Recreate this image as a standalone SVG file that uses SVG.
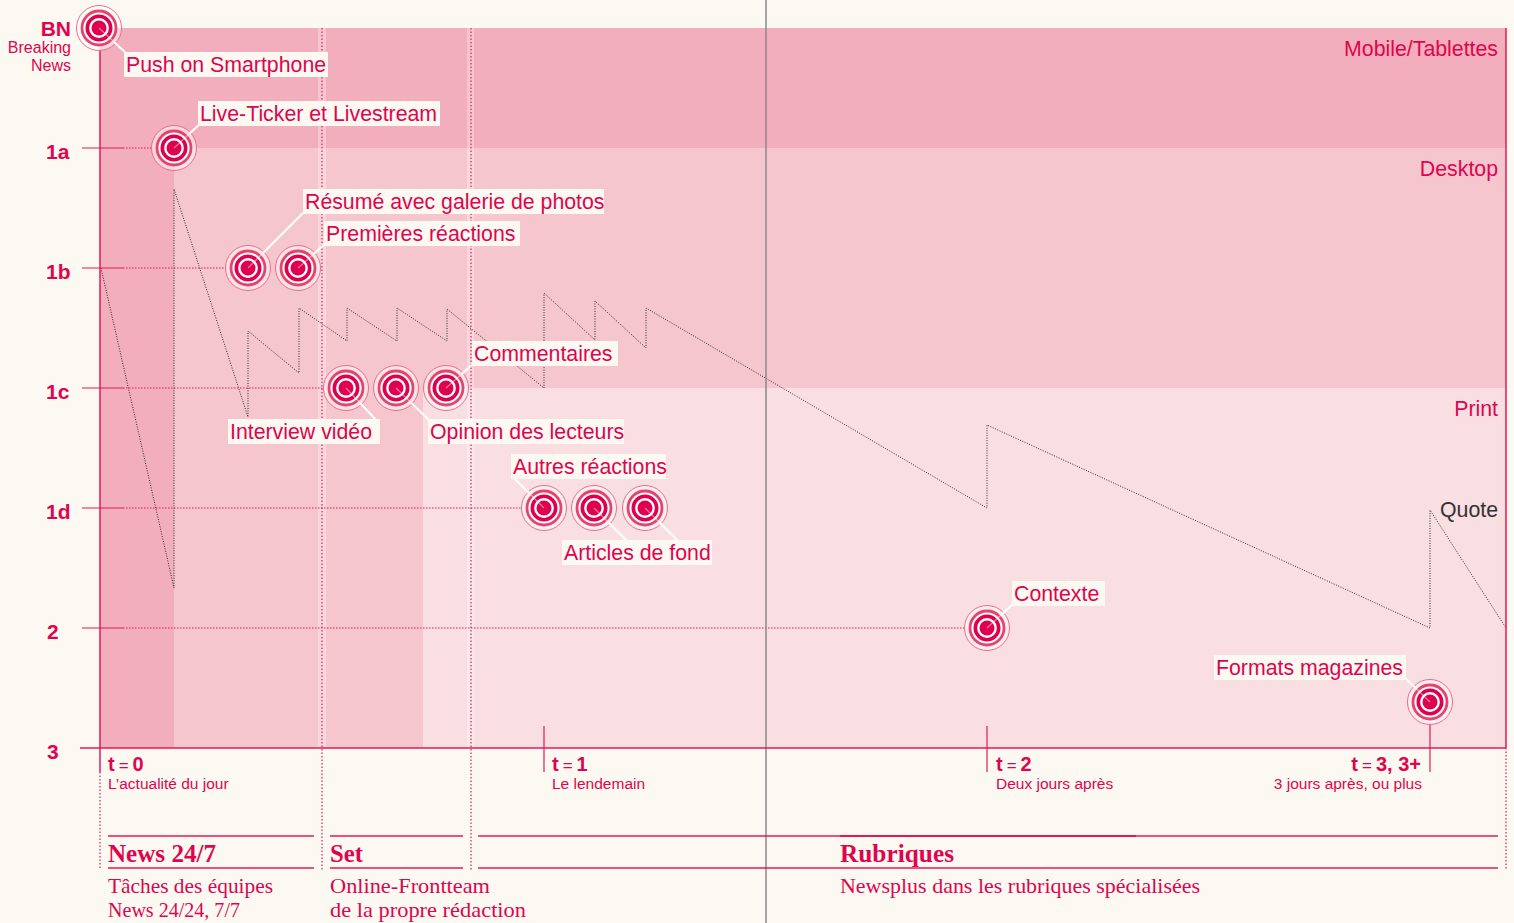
<svg xmlns="http://www.w3.org/2000/svg" xmlns:xlink="http://www.w3.org/1999/xlink" width="1514" height="923" viewBox="0 0 1514 923">
<defs>
<style>
.sans{font-family:"Liberation Sans",Arial,sans-serif;fill:#E0044E}
.lbl{font-size:21.3px}
.box{fill:#FCF9F3}
.call{stroke:#FFFFFF;stroke-width:2;fill:none}
.callin{stroke:#FFFFFF;stroke-width:1.3;stroke-opacity:0.45;fill:none}
.guide{stroke:#E8175A;stroke-width:1;stroke-dasharray:1.5 1.5;fill:none}
.vdot{stroke:#E8175A;stroke-width:1.2;stroke-dasharray:1.5 2;fill:none}
.axis{stroke:#E8175A;stroke-width:1.5;fill:none}
.tick{stroke:#E8175A;stroke-width:1.2;fill:none}
.zig{stroke:#2a2a2a;stroke-width:1;stroke-dasharray:1 1.5;fill:none}
.serif{font-family:"Liberation Serif","Times New Roman",serif;fill:#E0044E}
.hline{stroke:#E8175A;stroke-width:1.3}
.ax{font-size:21px;font-weight:bold}
.sub{font-size:15.5px}
.band{font-size:21.3px}
.tl{font-size:20px}
</style>
<g id="target">
<circle r="22.5" fill="#FFFFFF" fill-opacity="0.5" stroke="#EA6C8E" stroke-width="1"/>
<circle r="17" fill="#FFFFFF" stroke="#E5446C" stroke-width="2.8"/>
<circle r="11.7" fill="none" stroke="#E0004D" stroke-width="3.6"/>
<circle r="7.5" fill="#E0004D"/>
</g>
</defs>
<rect width="1514" height="923" fill="#FCF9F3"/>
<g id="bands">
<rect x="100" y="28" width="1406" height="720" fill="#F9DFE2"/>
<polygon points="100,148 1506,148 1506,388 423,388 423,748 100,748" fill="#F6C6CF"/>
<polygon points="100,28 1506,28 1506,148 174,148 174,748 100,748" fill="#F2AEBC"/>
<rect x="318" y="28" width="8" height="720" fill="#FFFFFF" fill-opacity="0.3"/>
<rect x="467" y="28" width="7" height="720" fill="#FFFFFF" fill-opacity="0.3"/>
</g>
<g id="connectors">
<line class="vdot" x1="322" y1="28" x2="322" y2="870"/>
<line class="vdot" x1="471" y1="28" x2="471" y2="870"/>
<line class="guide" x1="123" y1="148" x2="152" y2="148"/>
<line class="guide" x1="123" y1="268" x2="226" y2="268"/>
<line class="guide" x1="123" y1="388" x2="324" y2="388"/>
<line class="guide" x1="123" y1="508" x2="522" y2="508"/>
<line class="guide" x1="123" y1="628" x2="965" y2="628"/>
<polyline class="zig" points="101,268 174,588 174,189 248,417 248,331 299,373 299,308 347,341 347,308 397,341 397,308 447,341 447,309 544,388 544,293 595,340 595,301 646,348 646,308 987,508 987,425 1430,628 1430,510 1506,628"/>
<line x1="766" y1="0" x2="766" y2="923" stroke="#8a8a8a" stroke-width="1.5"/>
<line class="axis" x1="100" y1="50" x2="100" y2="772"/>
<line class="vdot" x1="100" y1="772" x2="100" y2="870"/>
<line class="axis" x1="1506" y1="28" x2="1506" y2="748"/>
<line class="vdot" x1="1506" y1="748" x2="1506" y2="870"/>
<line class="axis" x1="80" y1="748" x2="1506" y2="748"/>
<line class="tick" x1="82" y1="148" x2="123" y2="148"/>
<line class="tick" x1="82" y1="268" x2="123" y2="268"/>
<line class="tick" x1="82" y1="388" x2="123" y2="388"/>
<line class="tick" x1="82" y1="508" x2="123" y2="508"/>
<line class="tick" x1="82" y1="628" x2="123" y2="628"/>
<line class="tick" x1="544" y1="726" x2="544" y2="772"/>
<line class="tick" x1="987" y1="726" x2="987" y2="772"/>
<line class="tick" x1="1430" y1="724" x2="1430" y2="772"/>
</g>
<g id="axis-labels" class="sans">
<text x="71" y="36" text-anchor="end" class="ax">BN</text>
<text x="71" y="53" text-anchor="end" font-size="16">Breaking</text>
<text x="71" y="71" text-anchor="end" font-size="16">News</text>
<text x="46" y="159" class="ax">1a</text>
<text x="46" y="279" class="ax">1b</text>
<text x="46" y="399" class="ax">1c</text>
<text x="46" y="519" class="ax">1d</text>
<text x="47" y="639" class="ax">2</text>
<text x="47" y="759" class="ax">3</text>
</g>
<g id="band-labels" class="sans band">
<text x="1498" y="56" text-anchor="end">Mobile/Tablettes</text>
<text x="1498" y="176" text-anchor="end">Desktop</text>
<text x="1498" y="416" text-anchor="end">Print</text>
<text x="1498" y="517" text-anchor="end" style="fill:#333333">Quote</text>
</g>
<g id="n-push">
<use xlink:href="#target" href="#target" x="99" y="28"/>
<line class="callin" x1="99" y1="28" x2="114.4" y2="42.3"/>
<line class="call" x1="114.4" y1="42.3" x2="128" y2="55"/>
<rect class="box" x="124" y="52" width="204" height="25"/>
<text class="sans lbl" x="126" y="72">Push on Smartphone</text>
</g>
<g id="n-live">
<use xlink:href="#target" href="#target" x="174" y="148"/>
<line class="callin" x1="174" y1="148" x2="189.4" y2="133.7"/>
<line class="call" x1="189.4" y1="133.7" x2="201" y2="123"/>
<rect class="box" x="198" y="101" width="242" height="25"/>
<text class="sans lbl" x="200" y="121">Live-Ticker et Livestream</text>
</g>
<g id="n-resume">
<use xlink:href="#target" href="#target" x="248" y="268"/>
<line class="callin" x1="248" y1="268" x2="262.8" y2="253.2"/>
<line class="call" x1="262.8" y1="253.2" x2="305" y2="211"/>
<rect class="box" x="303" y="189" width="301" height="25"/>
<text class="sans lbl" x="305" y="209">Résumé avec galerie de photos</text>
</g>
<g id="n-premieres">
<use xlink:href="#target" href="#target" x="298" y="268"/>
<line class="callin" x1="298" y1="268" x2="313.7" y2="254"/>
<line class="call" x1="313.7" y1="254" x2="326" y2="243"/>
<rect class="box" x="324" y="221" width="196" height="25"/>
<text class="sans lbl" x="326" y="241">Premières réactions</text>
</g>
<g id="n-interview">
<use xlink:href="#target" href="#target" x="346" y="388"/>
<line class="callin" x1="346" y1="388" x2="360.4" y2="403.3"/>
<line class="call" x1="360.4" y1="403.3" x2="377" y2="421"/>
<rect class="box" x="228" y="419" width="152" height="25"/>
<text class="sans lbl" x="230" y="439">Interview vidéo</text>
</g>
<g id="n-opinion">
<use xlink:href="#target" href="#target" x="396" y="388"/>
<line class="callin" x1="396" y1="388" x2="411" y2="402.6"/>
<line class="call" x1="411" y1="402.6" x2="431" y2="422"/>
<rect class="box" x="428" y="419" width="196" height="25"/>
<text class="sans lbl" x="430" y="439">Opinion des lecteurs</text>
</g>
<g id="n-commentaires">
<use xlink:href="#target" href="#target" x="446" y="388"/>
<line class="callin" x1="446" y1="388" x2="461.7" y2="374"/>
<line class="call" x1="461.7" y1="374" x2="474" y2="363"/>
<rect class="box" x="472" y="341" width="146" height="25"/>
<text class="sans lbl" x="474" y="361">Commentaires</text>
</g>
<g id="n-autres">
<use xlink:href="#target" href="#target" x="544" y="508"/>
<line class="callin" x1="544" y1="508" x2="529.2" y2="493.2"/>
<line class="call" x1="529.2" y1="493.2" x2="513" y2="477"/>
<rect class="box" x="511" y="454" width="155" height="25"/>
<text class="sans lbl" x="513" y="474">Autres réactions</text>
</g>
<g id="n-articles">
<use xlink:href="#target" href="#target" x="594" y="508"/>
<use xlink:href="#target" href="#target" x="645" y="508"/>
<line class="callin" x1="594" y1="508" x2="608.8" y2="522.8"/>
<line class="call" x1="608.8" y1="522.8" x2="628" y2="542"/>
<line class="callin" x1="645" y1="508" x2="659.8" y2="522.8"/>
<line class="call" x1="659.8" y1="522.8" x2="679" y2="542"/>
<rect class="box" x="562" y="540" width="150" height="25"/>
<text class="sans lbl" x="564" y="560">Articles de fond</text>
</g>
<g id="n-contexte">
<use xlink:href="#target" href="#target" x="987" y="628"/>
<line class="callin" x1="987" y1="628" x2="1002.4" y2="613.7"/>
<line class="call" x1="1002.4" y1="613.7" x2="1014" y2="603"/>
<rect class="box" x="1012" y="581" width="93" height="25"/>
<text class="sans lbl" x="1014" y="601">Contexte</text>
</g>
<g id="n-formats">
<use xlink:href="#target" href="#target" x="1430" y="702"/>
<line class="callin" x1="1430" y1="702" x2="1414.9" y2="687.4"/>
<line class="call" x1="1414.9" y1="687.4" x2="1404" y2="677"/>
<rect class="box" x="1214" y="655" width="192" height="25"/>
<text class="sans lbl" x="1216" y="675">Formats magazines</text>
</g>
<g id="time-labels" class="sans">
<text x="108" y="771" class="tl"><tspan font-weight="bold">t</tspan><tspan dx="4" font-size="17">=</tspan><tspan dx="4" font-weight="bold">0</tspan></text>
<text x="108" y="789" class="sub">L’actualité du jour</text>
<text x="552" y="771" class="tl"><tspan font-weight="bold">t</tspan><tspan dx="4" font-size="17">=</tspan><tspan dx="4" font-weight="bold">1</tspan></text>
<text x="552" y="789" class="sub">Le lendemain</text>
<text x="996" y="771" class="tl"><tspan font-weight="bold">t</tspan><tspan dx="4" font-size="17">=</tspan><tspan dx="4" font-weight="bold">2</tspan></text>
<text x="996" y="789" class="sub">Deux jours après</text>
<text x="1421" y="771" class="tl" text-anchor="end"><tspan font-weight="bold">t</tspan><tspan dx="4" font-size="17">=</tspan><tspan dx="4" font-weight="bold">3, 3+</tspan></text>
<text x="1422" y="789" class="sub" text-anchor="end">3 jours après, ou plus</text>
</g>
<g id="teams">
<line class="hline" x1="108" y1="836" x2="314" y2="836"/>
<line class="hline" x1="330" y1="836" x2="463" y2="836"/>
<line class="hline" x1="478" y1="836" x2="1498" y2="836"/>
<line x1="840" y1="836" x2="1136" y2="836" stroke="#E8175A" stroke-width="2"/>
<line class="hline" x1="108" y1="868" x2="314" y2="868"/>
<line class="hline" x1="330" y1="868" x2="463" y2="868"/>
<line class="hline" x1="478" y1="868" x2="1498" y2="868"/>
<text class="serif" x="108" y="862" font-size="24.5" font-weight="bold" textLength="108" lengthAdjust="spacingAndGlyphs">News 24/7</text>
<text class="serif" x="330" y="862" font-size="24.5" font-weight="bold" textLength="33" lengthAdjust="spacingAndGlyphs">Set</text>
<text class="serif" x="840" y="862" font-size="24.5" font-weight="bold" textLength="114" lengthAdjust="spacingAndGlyphs">Rubriques</text>
<text class="serif" x="108" y="893" font-size="21.5" textLength="165" lengthAdjust="spacingAndGlyphs">Tâches des équipes</text>
<text class="serif" x="108" y="917" font-size="21.5" textLength="132" lengthAdjust="spacingAndGlyphs">News 24/24, 7/7</text>
<text class="serif" x="330" y="893" font-size="21.5" textLength="160" lengthAdjust="spacingAndGlyphs">Online-Frontteam</text>
<text class="serif" x="330" y="917" font-size="21.5" textLength="196" lengthAdjust="spacingAndGlyphs">de la propre rédaction</text>
<text class="serif" x="840" y="893" font-size="21.5" textLength="360" lengthAdjust="spacingAndGlyphs">Newsplus dans les rubriques spécialisées</text>
</g>
</svg>
